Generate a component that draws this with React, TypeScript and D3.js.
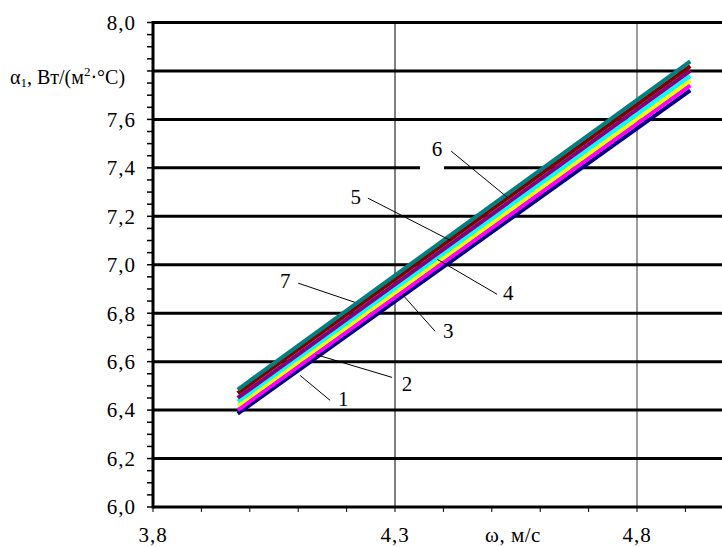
import * as d3 from "d3";

// measurement points (ω, м/с)
const omega = [3.975, 4.91];

// α1 for curves 1..7 (bottom to top)
const curve1 = [6.385, 7.72];
const curve2 = [6.4, 7.74];
const curve3 = [6.42, 7.76];
const curve4 = [6.435, 7.78];
const curve5 = [6.45, 7.8];
const curve6 = [6.47, 7.82];
const curve7 = [6.485, 7.84];

const curveNames = ["1", "2", "3", "4", "5", "6", "7"];
const curveColors = ["#000080", "#FF00FF", "#FFFF00", "#00FFFF", "#800080", "#800000", "#008080"];
const curves = [curve1, curve2, curve3, curve4, curve5, curve6, curve7];

const yGridValues = [6.0, 6.2, 6.4, 6.6, 6.8, 7.0, 7.2, 7.4, 7.6, 7.8, 8.0];
// 7,8 is covered by the axis title in the original
const yTickLabelValues = [6.0, 6.2, 6.4, 6.6, 6.8, 7.0, 7.2, 7.4, 7.6, 8.0];
const xTickLabelValues = [3.8, 4.3, 4.8];

// label anchor [ω, α] and leader [from, to]
const labelPos = [
  [4.193, 6.448],
  [4.325, 6.51],
  [4.41, 6.729],
  [4.534, 6.886],
  [4.219, 7.283],
  [4.387, 7.481],
  [4.073, 6.936],
];
const leaderFrom = [
  [4.166, 6.44],
  [4.294, 6.535],
  [4.383, 6.725],
  [4.511, 6.878],
  [4.244, 7.275],
  [4.416, 7.469],
  [4.1, 6.924],
];
const leaderTo = [
  [4.104, 6.543],
  [4.135, 6.63],
  [4.315, 6.878],
  [4.387, 7.023],
  [4.414, 7.101],
  [4.534, 7.275],
  [4.217, 6.845],
];

const fmt = (v: number) => v.toFixed(1).replace(".", ",");

export default function App() {
  const W = 722;
  const H = 547;
  const left = 153;
  const top = 22.5;
  const bottom = 507;

  const x = d3.scaleLinear().domain([3.8, 3.8 + (W - left) / 484]).range([left, W]);
  const y = d3.scaleLinear().domain([6.0, 8.0]).range([bottom, top]);

  const line = d3
    .line<[number, number]>()
    .x((d) => x(d[0]))
    .y((d) => y(d[1]));

  const yMinor = d3.range(6.0, 8.0001, 0.05);
  const xMinor = d3.range(3.8, 4.95, 0.1);
  const font = "'Liberation Serif', 'Times New Roman', serif";
  const fs = 21;

  return (
    <svg
      width={W}
      height={H}
      style={{ position: "absolute", left: 0, top: 0, background: "#fff" }}
      fontFamily={font}
    >
      {/* vertical grid */}
      <line x1={x(4.3)} x2={x(4.3)} y1={top} y2={bottom} stroke="#000" strokeWidth={1} />
      <line x1={x(4.8)} x2={x(4.8)} y1={top} y2={bottom} stroke="#7a7a7a" strokeWidth={1.5} />

      {/* horizontal grid */}
      {yGridValues.map((v) => (
        <line key={v} x1={left} x2={W} y1={y(v)} y2={y(v)} stroke="#000" strokeWidth={3} />
      ))}
      {/* label background gap on 7,4 line */}
      <rect x={420} y={y(7.4) - 4} width={24} height={8} fill="#fff" />

      {/* y ticks */}
      {yMinor.map((v, i) => (
        <line key={i} x1={left - 6} x2={left} y1={y(v)} y2={y(v)} stroke="#000" strokeWidth={1.5} />
      ))}
      {yTickLabelValues.map((v) => (
        <text key={v} x={136} y={y(v)} dy="0.35em" textAnchor="end" fontSize={fs} letterSpacing={1}>
          {fmt(v)}
        </text>
      ))}

      {/* x ticks */}
      {xMinor.map((v, i) => (
        <line key={i} x1={x(v)} x2={x(v)} y1={bottom} y2={bottom + 5} stroke="#000" strokeWidth={1} />
      ))}
      {xTickLabelValues.map((v) => (
        <text key={v} x={x(v)} y={542} textAnchor="middle" fontSize={fs} letterSpacing={1}>
          {fmt(v)}
        </text>
      ))}

      {/* axes */}
      <line x1={left} x2={left} y1={top - 1.5} y2={bottom + 1.5} stroke="#000" strokeWidth={3} />

      {/* curves */}
      {curves.map((c, i) => (
        <path
          key={i}
          d={line(omega.map((w, j) => [w, c[j]] as [number, number])) || ""}
          fill="none"
          stroke={curveColors[i]}
          strokeWidth={4}
        />
      ))}

      {/* labels */}
      {curveNames.map((n, i) => (
        <g key={n}>
          <line
            x1={x(leaderFrom[i][0])}
            y1={y(leaderFrom[i][1])}
            x2={x(leaderTo[i][0])}
            y2={y(leaderTo[i][1])}
            stroke="#000"
            strokeWidth={1}
          />
          <text x={x(labelPos[i][0])} y={y(labelPos[i][1])} dy="0.35em" textAnchor="middle" fontSize={fs}>
            {n}
          </text>
        </g>
      ))}

      {/* axis titles */}
      <text x={10} y={84} fontSize={20}>
        α<tspan fontSize={13} dy={3}>1</tspan>
        <tspan dy={-3}>, Вт/(м</tspan>
        <tspan fontSize={13} dy={-8}>2</tspan>
        <tspan dy={8}>·°С)</tspan>
      </text>
      <text x={513} y={542} textAnchor="middle" fontSize={fs} letterSpacing={0.5}>
        ω, м/с
      </text>
    </svg>
  );
}
